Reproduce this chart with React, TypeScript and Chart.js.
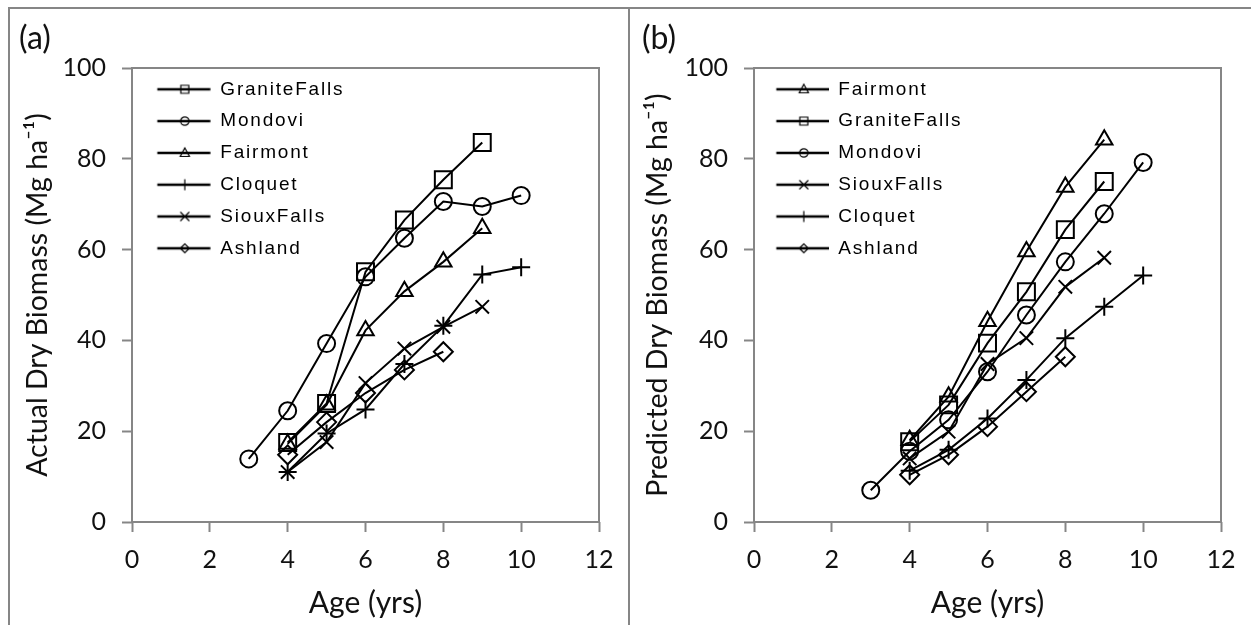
import React, { useEffect, useRef } from 'react';
import { Chart, registerables } from 'chart.js';

Chart.register(...registerables);

// ---------------- Data: panel (a) Actual Dry Biomass ----------------
const agesGraniteFallsA = [4, 5, 6, 7, 8, 9];
const valuesGraniteFallsA = [17.5, 26.1, 55.1, 66.5, 75.4, 83.6];
const agesMondoviA = [3, 4, 5, 6, 7, 8, 9, 10];
const valuesMondoviA = [13.9, 24.5, 39.3, 54.0, 62.5, 70.6, 69.5, 71.9];
const agesFairmontA = [4, 5, 6, 7, 8, 9];
const valuesFairmontA = [17.2, 25.8, 42.2, 50.8, 57.3, 64.7];
const agesCloquetA = [4, 5, 6, 7, 8, 9, 10];
const valuesCloquetA = [11.0, 19.5, 24.8, 34.8, 43.2, 54.5, 56.1];
const agesSiouxFallsA = [4, 5, 6, 7, 8, 9];
const valuesSiouxFallsA = [11.0, 17.6, 30.6, 38.2, 43.0, 47.4];
const agesAshlandA = [4, 5, 6, 7, 8];
const valuesAshlandA = [14.8, 22.0, 28.4, 33.5, 37.5];

// ---------------- Data: panel (b) Predicted Dry Biomass ----------------
const agesFairmontB = [4, 5, 6, 7, 8, 9];
const valuesFairmontB = [18.0, 27.6, 44.2, 59.6, 73.8, 84.2];
const agesGraniteFallsB = [4, 5, 6, 7, 8, 9];
const valuesGraniteFallsB = [17.7, 25.8, 39.4, 50.7, 64.4, 75.0];
const agesMondoviB = [3, 4, 5, 6, 7, 8, 9, 10];
const valuesMondoviB = [7.0, 15.6, 22.5, 33.1, 45.6, 57.3, 67.9, 79.2];
const agesSiouxFallsB = [4, 5, 6, 7, 8, 9];
const valuesSiouxFallsB = [14.0, 19.9, 34.8, 40.5, 51.8, 58.2];
const agesCloquetB = [4, 5, 6, 7, 8, 9, 10];
const valuesCloquetB = [11.3, 15.9, 22.8, 31.3, 40.5, 47.4, 54.3];
const agesAshlandB = [4, 5, 6, 7, 8];
const valuesAshlandB = [10.4, 14.8, 21.0, 28.7, 36.4];

// ---------------- Axis labels ----------------
const xTitle = 'Age (yrs)';
const yTitleA = 'Actual Dry Biomass (Mg ha\u207B\u00B9)';
const yTitleB = 'Predicted Dry Biomass (Mg ha\u207B\u00B9)';
const panelLabelA = '(a)';
const panelLabelB = '(b)';
const xMin = 0, xMax = 12, xStep = 2;
const yMin = 0, yMax = 100, yStep = 20;

// ---------------- Styles ----------------
const AXIS_GRAY = '#868686';
const TICK_FONT = 'Lato';
const LEGEND_FONT = '"Liberation Sans", Arial, sans-serif';

type MarkerStyle = 'rect' | 'circle' | 'triangle' | 'cross' | 'crossRot' | 'rectRot';
const MARKERS: Record<string, { style: MarkerStyle; radius: number }> = {
  GraniteFalls: { style: 'rect', radius: 12 },
  Mondovi: { style: 'circle', radius: 8.5 },
  Fairmont: { style: 'triangle', radius: 9.5 },
  Cloquet: { style: 'cross', radius: 9 },
  SiouxFalls: { style: 'crossRot', radius: 9.5 },
  Ashland: { style: 'rectRot', radius: 9.5 },
};

type Series = { name: string; ages: number[]; values: number[] };

const seriesA: Series[] = [
  { name: 'GraniteFalls', ages: agesGraniteFallsA, values: valuesGraniteFallsA },
  { name: 'Mondovi', ages: agesMondoviA, values: valuesMondoviA },
  { name: 'Fairmont', ages: agesFairmontA, values: valuesFairmontA },
  { name: 'Cloquet', ages: agesCloquetA, values: valuesCloquetA },
  { name: 'SiouxFalls', ages: agesSiouxFallsA, values: valuesSiouxFallsA },
  { name: 'Ashland', ages: agesAshlandA, values: valuesAshlandA },
];

const seriesB: Series[] = [
  { name: 'Fairmont', ages: agesFairmontB, values: valuesFairmontB },
  { name: 'GraniteFalls', ages: agesGraniteFallsB, values: valuesGraniteFallsB },
  { name: 'Mondovi', ages: agesMondoviB, values: valuesMondoviB },
  { name: 'SiouxFalls', ages: agesSiouxFallsB, values: valuesSiouxFallsB },
  { name: 'Cloquet', ages: agesCloquetB, values: valuesCloquetB },
  { name: 'Ashland', ages: agesAshlandB, values: valuesAshlandB },
];

// Legend sample: a line with a small hollow marker in it
function makeLegendImage(style: MarkerStyle, width: number, lineStart: number, lineEnd: number, markerX: number) {
  const c = document.createElement('canvas');
  c.width = width;
  c.height = 16;
  const ctx = c.getContext('2d')!;
  const cy = 8;
  ctx.strokeStyle = '#000';
  ctx.lineWidth = 2.6;
  ctx.beginPath();
  ctx.moveTo(lineStart, cy);
  ctx.lineTo(lineEnd, cy);
  ctx.stroke();
  ctx.lineWidth = 1.2;
  const x = markerX;
  ctx.beginPath();
  switch (style) {
    case 'rect':
      ctx.rect(x - 4, cy - 4, 8, 8);
      break;
    case 'circle':
      ctx.arc(x, cy, 4.2, 0, Math.PI * 2);
      break;
    case 'triangle':
      ctx.moveTo(x, cy - 5);
      ctx.lineTo(x + 4.6, cy + 3.5);
      ctx.lineTo(x - 4.6, cy + 3.5);
      ctx.closePath();
      break;
    case 'cross':
      ctx.moveTo(x, cy - 5.5);
      ctx.lineTo(x, cy + 5.5);
      break;
    case 'crossRot':
      ctx.moveTo(x - 4.5, cy - 4.5);
      ctx.lineTo(x + 4.5, cy + 4.5);
      ctx.moveTo(x - 4.5, cy + 4.5);
      ctx.lineTo(x + 4.5, cy - 4.5);
      break;
    case 'rectRot':
      ctx.moveTo(x - 4.5, cy);
      ctx.lineTo(x, cy - 4.5);
      ctx.lineTo(x + 4.5, cy);
      ctx.lineTo(x, cy + 4.5);
      ctx.closePath();
      break;
  }
  ctx.stroke();
  return c;
}

const framePlugin = {
  id: 'plotFrame',
  beforeDatasetsDraw(chart: any) {
    const { ctx, chartArea: a } = chart;
    ctx.save();
    ctx.strokeStyle = AXIS_GRAY;
    ctx.lineWidth = 2;
    ctx.strokeRect(a.left, a.top, a.right - a.left, a.bottom - a.top);
    ctx.restore();
  },
};

// Places the legend inside the plot area (top-left) and gives its text the wide spacing of the original
const legendPlacePlugin = {
  id: 'legendPlace',
  beforeDraw(chart: any) {
    const lg = chart.legend;
    if (lg && !lg.__patched) {
      const orig = lg.draw.bind(lg);
      lg.draw = (...args: any[]) => {
        const ctx = chart.ctx as any;
        const area = chart.chartArea;
        lg.top = area.top - 1;
        lg.bottom = area.bottom;
        ctx.save();
        ctx.letterSpacing = '1.8px';
        orig(...args);
        ctx.letterSpacing = '0px';
        ctx.restore();
      };
      lg.__patched = true;
    }
  },
};

type PanelSpec = {
  series: Series[];
  yTitle: string;
  yAxisWidth: number;
  padRight: number;
  legendW: number;
  legendLine: [number, number];
  legendMarker: number;
};

function buildConfig(p: PanelSpec): any {
  const legendImgs = p.series.map((s) =>
    makeLegendImage(MARKERS[s.name].style, p.legendW, p.legendLine[0], p.legendLine[1], p.legendMarker)
  );
  const datasets = p.series.map((s) => ({
    label: s.name,
    data: s.ages.map((a, i) => ({ x: a, y: s.values[i] })),
    borderColor: '#000',
    borderWidth: 2,
    pointStyle: MARKERS[s.name].style,
    pointRadius: MARKERS[s.name].radius,
    pointHoverRadius: MARKERS[s.name].radius,
    pointBorderWidth: 2,
    pointBorderColor: '#000',
    pointBackgroundColor: 'rgba(0,0,0,0)',
    fill: false,
    tension: 0,
    clip: false,
  }));
  return {
    type: 'line',
    data: { datasets },
    plugins: [framePlugin, legendPlacePlugin],
    options: {
      animation: false,
      responsive: false,
      events: [],
      layout: { padding: { left: 0, top: 59, right: p.padRight, bottom: 0 } },
      plugins: {
        tooltip: { enabled: false },
        legend: {
          position: 'chartArea',
          align: 'start',
          labels: {
            usePointStyle: true,
            pointStyleWidth: p.legendW,
            padding: 12.8,
            color: '#000',
            font: { family: LEGEND_FONT, size: 19 },
            generateLabels: (chart: any) =>
              chart.data.datasets.map((ds: any, i: number) => ({
                text: ds.label,
                pointStyle: legendImgs[i],
                datasetIndex: i,
                hidden: false,
                lineWidth: 0,
                strokeStyle: 'rgba(0,0,0,0)',
                fillStyle: 'rgba(0,0,0,0)',
                fontColor: '#000',
              })),
          },
        },
      },
      scales: {
        x: {
          type: 'linear',
          min: xMin,
          max: xMax,
          afterFit: (scale: any) => {
            scale.height = 103;
          },
          border: { display: false },
          grid: {
            drawOnChartArea: false,
            drawTicks: true,
            tickLength: 10,
            tickWidth: 2,
            tickColor: AXIS_GRAY,
            color: AXIS_GRAY,
          },
          ticks: {
            stepSize: xStep,
            padding: 13,
            color: '#111',
            font: { family: TICK_FONT, size: 25 },
            maxRotation: 0,
          },
          title: {
            display: true,
            text: xTitle,
            color: '#111',
            font: { family: TICK_FONT, size: 30 },
            padding: { top: 0, bottom: 4 },
          },
        },
        y: {
          type: 'linear',
          min: yMin,
          max: yMax,
          afterFit: (scale: any) => {
            scale.width = p.yAxisWidth;
          },
          border: { display: false },
          grid: {
            drawOnChartArea: false,
            drawTicks: true,
            tickLength: 10,
            tickWidth: 2,
            tickColor: AXIS_GRAY,
            color: AXIS_GRAY,
          },
          ticks: {
            stepSize: yStep,
            padding: 16,
            color: '#111',
            font: { family: TICK_FONT, size: 25 },
          },
          title: {
            display: true,
            text: p.yTitle,
            color: '#111',
            font: { family: TICK_FONT, size: 28.5 },
            padding: { top: 11, bottom: 0 },
          },
        },
      },
    },
  };
}

function Panel(props: { spec: PanelSpec; left: number; width: number }) {
  const ref = useRef<HTMLCanvasElement>(null);
  useEffect(() => {
    const chart = new Chart(ref.current!, buildConfig(props.spec));
    return () => chart.destroy();
  }, []);
  return (
    <canvas
      ref={ref}
      width={props.width}
      height={616}
      style={{ position: 'absolute', left: props.left, top: 9, width: props.width, height: 616, display: 'block' }}
    />
  );
}

const specA: PanelSpec = {
  series: seriesA,
  yTitle: yTitleA,
  yAxisWidth: 122,
  padRight: 29,
  legendW: 66,
  legendLine: [12.5, 65.5],
  legendMarker: 40,
};

const specB: PanelSpec = {
  series: seriesB,
  yTitle: yTitleB,
  yAxisWidth: 124,
  padRight: 30,
  legendW: 62,
  legendLine: [9.5, 62],
  legendMarker: 37,
};

export default function App() {
  useEffect(() => {
    document.documentElement.style.overflow = 'hidden';
    document.body.style.overflow = 'hidden';
  }, []);
  const labelStyle: React.CSSProperties = {
    position: 'absolute',
    fontFamily: TICK_FONT,
    fontSize: 32,
    lineHeight: '32px',
    color: '#111',
    margin: 0,
  };
  return (
    <div style={{ position: 'absolute', left: 0, top: 0, width: 1251, height: 625, overflow: 'hidden', background: '#fff' }}>
      <div style={{ position: 'absolute', left: 8, top: 7, width: 1243, height: 2, background: AXIS_GRAY }} />
      <div style={{ position: 'absolute', left: 8, top: 7, width: 2, height: 618, background: AXIS_GRAY }} />
      <div style={{ position: 'absolute', left: 628, top: 7, width: 2, height: 618, background: AXIS_GRAY }} />
      <Panel spec={specA} left={10} width={618} />
      <Panel spec={specB} left={630} width={621} />
      <div style={{ ...labelStyle, left: 19, top: 21 }}>{panelLabelA}</div>
      <div style={{ ...labelStyle, left: 642, top: 21 }}>{panelLabelB}</div>
    </div>
  );
}
